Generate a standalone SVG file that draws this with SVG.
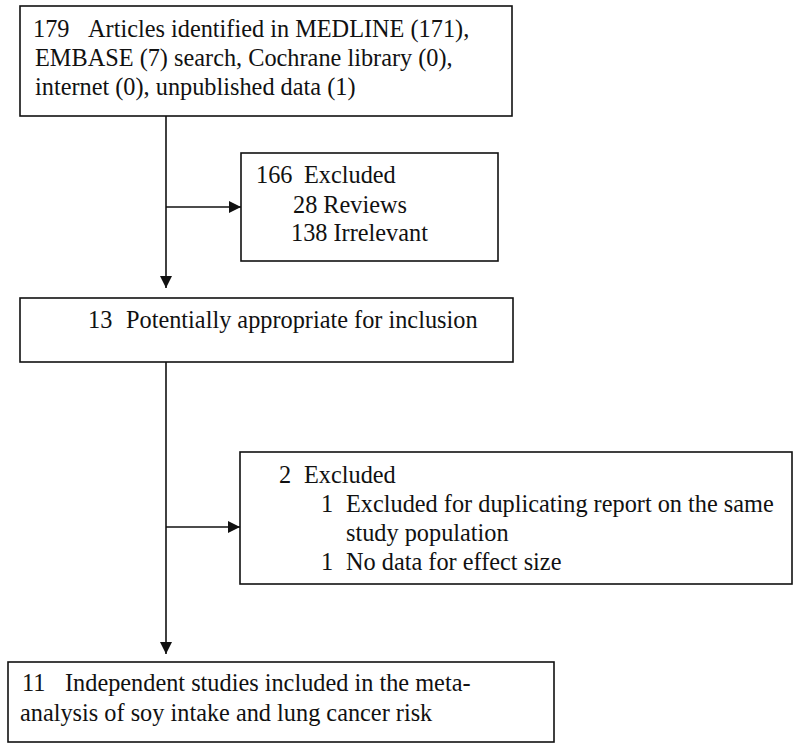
<svg xmlns="http://www.w3.org/2000/svg" width="800" height="747" viewBox="0 0 800 747">
<defs>
<style>
.box{fill:#fff;stroke:#111;stroke-width:1.6}
.t{font-family:"Liberation Serif","Times New Roman",serif;font-size:24.3px;fill:#111}
.c{stroke:#111;stroke-width:1.6;fill:none}
</style>
<marker id="ah" markerUnits="userSpaceOnUse" markerWidth="13" markerHeight="12" refX="12" refY="6" orient="auto">
<path d="M0,0 L12,6 L0,12 Z" fill="#111"/>
</marker>
</defs>
<rect width="800" height="747" fill="#fff"/>
<g id="connectors">
<line class="c" x1="166" y1="116" x2="166" y2="288" marker-end="url(#ah)"/>
<line class="c" x1="166" y1="207" x2="241" y2="207" marker-end="url(#ah)"/>
<line class="c" x1="166" y1="362" x2="166" y2="654" marker-end="url(#ah)"/>
<line class="c" x1="166" y1="527" x2="240" y2="527" marker-end="url(#ah)"/>
</g>
<g id="identified">
<rect class="box" x="20" y="6" width="492" height="110"/>
<text class="t" y="37"><tspan x="33">179</tspan><tspan x="88">Articles identified in MEDLINE (171),</tspan></text>
<text class="t" x="35" y="66">EMBASE (7) search, Cochrane library (0),</text>
<text class="t" x="35" y="95">internet (0), unpublished data (1)</text>
</g>
<g id="excluded1">
<rect class="box" x="241" y="153" width="257" height="108"/>
<text class="t" y="183"><tspan x="256">166</tspan><tspan x="304">Excluded</tspan></text>
<text class="t" x="293" y="213">28 Reviews</text>
<text class="t" x="291" y="241">138 Irrelevant</text>
</g>
<g id="potential">
<rect class="box" x="20" y="298" width="493" height="64"/>
<text class="t" y="328"><tspan x="88">13</tspan><tspan x="126">Potentially appropriate for inclusion</tspan></text>
</g>
<g id="excluded2">
<rect class="box" x="240" y="452" width="552" height="132"/>
<text class="t" y="483"><tspan x="279">2</tspan><tspan x="304">Excluded</tspan></text>
<text class="t" y="512"><tspan x="321">1</tspan><tspan x="346">Excluded for duplicating report on the same</tspan></text>
<text class="t" x="346" y="541">study population</text>
<text class="t" y="570"><tspan x="321">1</tspan><tspan x="346">No data for effect size</tspan></text>
</g>
<g id="included">
<rect class="box" x="8" y="662" width="546" height="80"/>
<text class="t" y="691"><tspan x="22">11</tspan><tspan x="65">Independent studies included in the meta-</tspan></text>
<text class="t" x="20" y="721">analysis of soy intake and lung cancer risk</text>
</g>
</svg>
